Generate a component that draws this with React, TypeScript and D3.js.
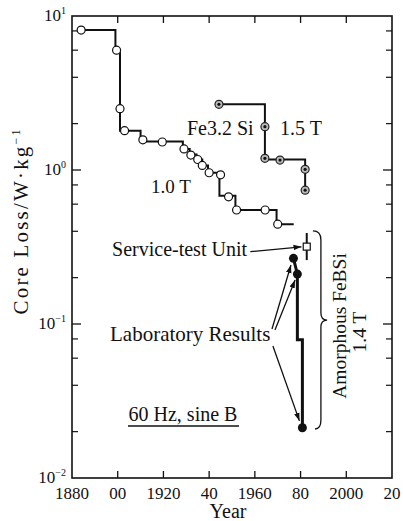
import React from "react";
import * as d3 from "d3";

// ---------- data ----------
const yearTicks = [1880, 1900, 1920, 1940, 1960, 1980, 2000, 2020];
const yearTickLabels = ["1880", "00", "1920", "40", "1960", "80", "2000", "20"];
const decadeTicks = [0.01, 0.1, 1, 10];
const decadeExps = ["−2", "−1", "0", "1"];
const minorMultipliers = [2, 4, 6, 8];

// 1.0 T (open circles)
const pts10Year = [1884, 1899.5, 1901, 1903, 1911, 1919.5, 1929, 1932, 1935, 1937, 1940, 1945, 1948.5, 1952, 1964.5, 1970];
const pts10Val = [8.1, 6.0, 2.5, 1.8, 1.57, 1.52, 1.37, 1.25, 1.17, 1.07, 0.96, 0.93, 0.67, 0.55, 0.55, 0.445];
// step line nodes (step-after)
const step10Year = [1884, 1899, 1901, 1910, 1928.5, 1931.5, 1934.5, 1937, 1939.5, 1944.5, 1951.5, 1969.5, 1977];
const step10Val = [8.1, 6.0, 1.8, 1.53, 1.37, 1.26, 1.17, 1.07, 0.96, 0.68, 0.55, 0.445, 0.445];

// Fe3.2Si 1.5 T (dotted circles)
const pts15Year = [1944.3, 1964.4, 1964.4, 1971, 1982, 1982];
const pts15Val = [2.67, 1.91, 1.19, 1.16, 1.01, 0.74];
const step15Year = [1944.3, 1964.4, 1982, 1982];
const step15Val = [2.67, 1.17, 1.01, 0.74];

// Amorphous FeBSi 1.4 T (filled circles)
const amoYear = [1976.9, 1978.6, 1980.8];
const amoVal = [0.267, 0.211, 0.0212];
const amoLineYear = [1976.9, 1978.6, 1978.6, 1980.8, 1980.8];
const amoLineVal = [0.267, 0.211, 0.079, 0.079, 0.0212];

// Service-test unit
const serviceYear = 1982.7;
const serviceVal = 0.318;
const serviceErr = [0.26, 0.39];

// annotation arrows [fromYear, fromVal, toYear, toVal]
const arrowFromYear = [1958, 1967.5, 1968.8, 1967.9];
const arrowFromVal = [0.295, 0.0928, 0.0915, 0.072];
const arrowToYear = [1980.4, 1975.8, 1977.6, 1979.5];
const arrowToVal = [0.317, 0.2415, 0.193, 0.0235];

// brace [top, tip, bottom]
const braceYear = [1985.4, 1991.6, 1986.3];
const braceVal = [0.402, 0.106, 0.0208];

// ---------- layout ----------
const W = 403, H = 521;
const x = d3.scaleLinear().domain([1880, 2020]).range([72, 392]);
const y = d3.scaleLog().domain([0.01, 10]).range([478, 16]);
const FONT = "'Liberation Serif', 'DejaVu Serif', serif";

export default function App() {
  const step = d3.line<[number, number]>().x(d => x(d[0])).y(d => y(d[1])).curve(d3.curveStepAfter);
  const lin = d3.line<[number, number]>().x(d => x(d[0])).y(d => y(d[1]));
  const s10 = step10Year.map((v, i) => [v, step10Val[i]] as [number, number]);
  const s15 = step15Year.map((v, i) => [v, step15Val[i]] as [number, number]);
  const amo = amoLineYear.map((v, i) => [v, amoLineVal[i]] as [number, number]);

  const minorTicks: number[] = [];
  [0.01, 0.1, 1].forEach(d => minorMultipliers.forEach(m => minorTicks.push(d * m)));

  const [x0, y0] = [x(braceYear[0]), y(braceVal[0])];
  const [xt, yt] = [x(braceYear[1]), y(braceVal[1])];
  const [x1, y1] = [x(braceYear[2]), y(braceVal[2])];
  const xm = x0 + 8;
  const braceD = `M${x0},${y0} Q${xm},${y0} ${xm},${y0 + 9} L${xm},${yt - 7} Q${xm},${yt} ${xt},${yt} Q${xm},${yt} ${xm},${yt + 7} L${xm},${y1 - 9} Q${xm},${y1} ${x1},${y1}`;

  return (
    <svg width={W} height={H} style={{ position: "absolute", left: 0, top: 0, background: "#fff" }} fontFamily={FONT}>
      <defs>
        <marker id="ah" viewBox="0 0 10 10" refX="10" refY="5" markerWidth="8" markerHeight="8" orient="auto" markerUnits="userSpaceOnUse">
          <path d="M0,1.5 L10,5 L0,8.5 Z" fill="#111" />
        </marker>
      </defs>
      {/* frame */}
      <rect x={x(1880)} y={y(10)} width={x(2020) - x(1880)} height={y(0.01) - y(10)} fill="none" stroke="#111" strokeWidth={1.6} />
      {/* x ticks */}
      {yearTicks.slice(1, -1).map(t => (
        <g key={"xt" + t}>
          <line x1={x(t)} x2={x(t)} y1={y(0.01)} y2={y(0.01) - 7} stroke="#111" strokeWidth={1.3} />
          <line x1={x(t)} x2={x(t)} y1={y(10)} y2={y(10) + 7} stroke="#111" strokeWidth={1.3} />
        </g>
      ))}
      {yearTicks.map((t, i) => (
        <text key={"xl" + t} x={x(t)} y={499} textAnchor="middle" fontSize={17} fill="#111">{yearTickLabels[i]}</text>
      ))}
      {/* y ticks */}
      {decadeTicks.slice(1, -1).map(t => (
        <g key={"ym" + t}>
          <line x1={x(1880)} x2={x(1880) + 9} y1={y(t)} y2={y(t)} stroke="#111" strokeWidth={1.3} />
          <line x1={x(2020)} x2={x(2020) - 9} y1={y(t)} y2={y(t)} stroke="#111" strokeWidth={1.3} />
        </g>
      ))}
      {minorTicks.map(t => (
        <g key={"yn" + t}>
          <line x1={x(1880)} x2={x(1880) + 6} y1={y(t)} y2={y(t)} stroke="#111" strokeWidth={1.2} />
          <line x1={x(2020)} x2={x(2020) - 6} y1={y(t)} y2={y(t)} stroke="#111" strokeWidth={1.2} />
        </g>
      ))}
      {decadeTicks.map((t, i) => (
        <text key={"yl" + t} x={66} y={y(t) + 5} textAnchor="end" fontSize={17} fill="#111">
          10<tspan dy={-7} fontSize={10}>{decadeExps[i]}</tspan>
        </text>
      ))}
      {/* axis titles */}
      <text x={228} y={518} textAnchor="middle" fontSize={20} fill="#111">Year</text>
      <text transform={`translate(28,222) rotate(-90)`} textAnchor="middle" fontSize={21} fill="#111"
        textLength={185} lengthAdjust="spacing">
        Core Loss/W·kg<tspan dy={-8} fontSize={12}>−1</tspan>
      </text>

      {/* 1.0 T */}
      <path d={step(s10) || ""} fill="none" stroke="#111" strokeWidth={2} />
      {pts10Year.map((v, i) => (
        <circle key={"p10" + i} cx={x(v)} cy={y(pts10Val[i])} r={4} fill="#fff" stroke="#111" strokeWidth={1.2} />
      ))}
      {/* 1.5 T */}
      <path d={step(s15) || ""} fill="none" stroke="#111" strokeWidth={2} />
      {pts15Year.map((v, i) => (
        <g key={"p15" + i}>
          <circle cx={x(v)} cy={y(pts15Val[i])} r={4} fill="#bbb" stroke="#222" strokeWidth={1.2} />
          <circle cx={x(v)} cy={y(pts15Val[i])} r={1.6} fill="#111" />
        </g>
      ))}
      {/* amorphous */}
      <path d={lin(amo) || ""} fill="none" stroke="#111" strokeWidth={3} />
      {amoYear.map((v, i) => (
        <circle key={"am" + i} cx={x(v)} cy={y(amoVal[i])} r={4.5} fill="#111" />
      ))}
      {/* service-test */}
      <line x1={x(serviceYear)} x2={x(serviceYear)} y1={y(serviceErr[0])} y2={y(serviceErr[1])} stroke="#111" strokeWidth={2} />
      <rect x={x(serviceYear) - 3.5} y={y(serviceVal) - 3.5} width={7} height={7} fill="#fff" stroke="#111" strokeWidth={1.2} />

      {/* arrows */}
      {arrowFromYear.map((v, i) => (
        <line key={"ar" + i} x1={x(v)} y1={y(arrowFromVal[i])} x2={x(arrowToYear[i])} y2={y(arrowToVal[i])} stroke="#111" strokeWidth={1.3} markerEnd="url(#ah)" />
      ))}
      {/* brace */}
      <path d={braceD} fill="none" stroke="#111" strokeWidth={1.3} />

      {/* labels */}
      <text x={187} y={135} fontSize={20} fill="#111">Fe3.2 Si</text>
      <text x={280} y={135} fontSize={20} fill="#111">1.5 T</text>
      <text x={171} y={193} textAnchor="middle" fontSize={19} fill="#111">1.0 T</text>
      <text x={247} y={256} textAnchor="end" fontSize={20} fill="#111">Service-test Unit</text>
      <text x={110} y={341} fontSize={21} fill="#111">Laboratory Results</text>
      <text x={183} y={421} textAnchor="middle" fontSize={20} fill="#111">60 Hz, sine B</text>
      <line x1={128} x2={239} y1={426} y2={426} stroke="#111" strokeWidth={1.3} />
      <text transform={`translate(346,326) rotate(-90)`} textAnchor="middle" fontSize={19.5} fill="#111">Amorphous FeBSi</text>
      <text transform={`translate(366,332) rotate(-90)`} textAnchor="middle" fontSize={19.5} fill="#111">1.4 T</text>
    </svg>
  );
}
